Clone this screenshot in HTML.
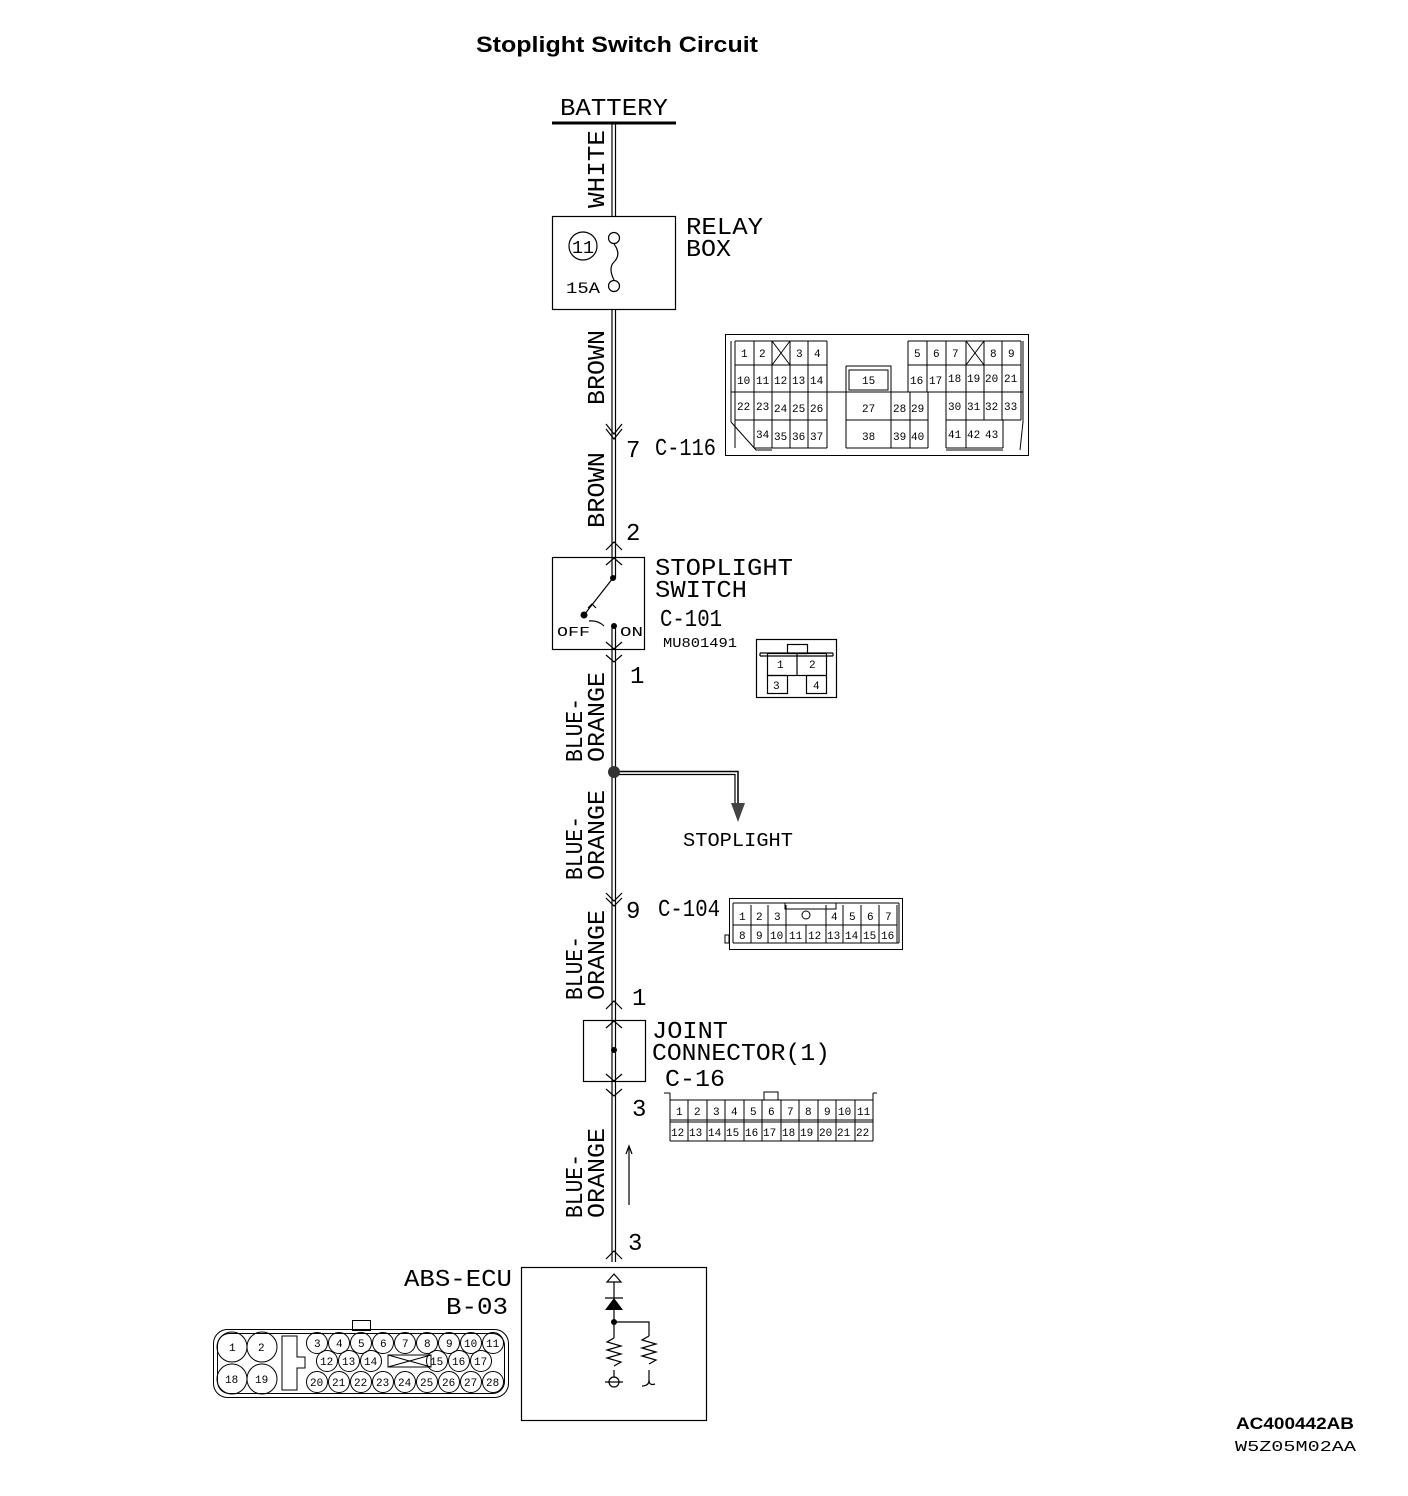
<!DOCTYPE html>
<html><head><meta charset="utf-8"><style>
html,body{margin:0;padding:0;background:#fff}
svg{display:block}
.t{font-family:"Liberation Mono",monospace;fill:#000}
.s{font-family:"Liberation Mono",monospace;fill:#000;font-size:11px}
</style></head><body>
<svg width="1408" height="1496" viewBox="0 0 1408 1496" xmlns="http://www.w3.org/2000/svg">
<g fill="none" stroke="#000" stroke-width="1.2">
<!-- title -->
</g>
<text x="476" y="52" font-family="Liberation Sans,sans-serif" font-weight="bold" font-size="22" textLength="282" lengthAdjust="spacingAndGlyphs">Stoplight  Switch Circuit</text>

<!-- battery -->
<text class="t" x="560" y="115" font-size="24" textLength="108" lengthAdjust="spacingAndGlyphs">BATTERY</text>
<line x1="552" y1="123" x2="676" y2="123" stroke="#000" stroke-width="3"/>

<!-- main wire -->
<g stroke="#000" stroke-width="1.2" fill="none">
<line x1="612" y1="123" x2="612" y2="1262"/>
<line x1="615.5" y1="123" x2="615.5" y2="1262"/>
<!-- relay box -->
<rect x="552.5" y="216.5" width="123" height="93" fill="#fff"/>
<circle cx="583" cy="246" r="14"/>
<circle cx="614" cy="238" r="5.5" fill="#fff"/>
<circle cx="614" cy="286" r="5.5" fill="#fff"/>
<path d="M614 244 C620 252,618 258,614 262 C609 267,611 274,614 280"/>
<!-- C-116 chevrons -->
<path d="M606 424 L614 434 L622 424 M606 429 L614 439 L622 429"/>
<!-- 2 chevrons -->
<path d="M606 550 L614 542 L622 550 M606 566 L614 558 L622 566"/>
<!-- switch box -->
<rect x="552.5" y="557.5" width="92" height="92" fill="#fff"/>
<line x1="612" y1="557" x2="612" y2="578"/><line x1="615.5" y1="557" x2="615.5" y2="578"/>
<line x1="612" y1="626" x2="612" y2="650"/><line x1="615.5" y1="626" x2="615.5" y2="650"/>
<path d="M606 565 L614 558 L622 565"/>
<line x1="613" y1="578" x2="584" y2="615"/>
<path d="M588 608 L592 604 L596 608"/>
<path d="M589 621 Q598 620 604 626"/>
<path d="M606 642 L614 649 L622 642 M606 655 L614 662 L622 655"/>
<!-- 4 pin connector -->
<rect x="756.5" y="639.5" width="80" height="58"/>
<path d="M760 656 H833 M760 656 V653 M833 656 V653 M760 653 H833"/>
<rect x="787.5" y="644.5" width="20" height="9"/>
<rect x="767.5" y="653.5" width="59" height="22"/>
<line x1="797" y1="654" x2="797" y2="676"/>
<rect x="767.5" y="675.5" width="20" height="18"/>
<rect x="806.5" y="675.5" width="20" height="18"/>
<!-- branch -->
<path d="M614 771.5 H738 V805" stroke-width="1.5"/>
<path d="M614 774.5 H735 V805" stroke-width="1.2"/>
<!-- C-104 chevrons -->
<path d="M606 893 L614 901 L622 893 M606 898 L614 906 L622 898"/>
<!-- joint -->
<path d="M606 1009 L614 1001 L622 1009"/>
<rect x="583.5" y="1020.5" width="62" height="61" fill="#fff"/>
<line x1="612" y1="1020" x2="612" y2="1082"/><line x1="615.5" y1="1020" x2="615.5" y2="1082"/>
<path d="M606 1028 L614 1021 L622 1028 M606 1074 L614 1081 L622 1074 M606 1089 L614 1096 L622 1089"/>
<!-- up arrow -->
<line x1="629" y1="1148" x2="629" y2="1205"/>
<path d="M626 1154 L629 1146 L632 1154"/>
<!-- ABS -->
<path d="M606 1259 L614 1251 L622 1259"/>
<rect x="521.5" y="1267.5" width="185" height="153" fill="#fff"/>
<path d="M607 1282 L614 1274 L621 1282 Z"/>
<line x1="614" y1="1282" x2="614" y2="1298"/>
<line x1="614" y1="1310" x2="614" y2="1322"/>
<line x1="605" y1="1298" x2="623" y2="1298"/>
<path d="M614 1322 H649 V1336 M614 1322 V1338 M614 1370 V1377 M649 1370 V1382"/>
<path d="M614 1338 l-7 4 l14 4 l-14 4 l14 4 l-14 4 l14 4 l-7 4"/>
<path d="M649 1336 l-7 4 l14 4 l-14 4 l14 4 l-14 4 l14 4 l-7 4"/>
<circle cx="614" cy="1382" r="5"/>
<line x1="605" y1="1382" x2="623" y2="1382"/>
<path d="M642 1386 Q649 1386 649 1380 Q649 1386 655 1384"/>
</g>
<circle cx="614" cy="1322" r="3"/>
<path d="M605 1310 L623 1310 L614 1298 Z"/>
<circle cx="613" cy="578" r="3"/><circle cx="584" cy="615" r="3.5"/><circle cx="614" cy="626" r="3"/>
<circle cx="614" cy="1050" r="3"/>
<circle cx="614" cy="772" r="6" fill="#333"/>
<path d="M731 803 L745 803 L738 822 Z" fill="#444"/>

<!-- relay texts -->
<text class="t" x="572" y="253" font-size="18" textLength="22" lengthAdjust="spacingAndGlyphs">11</text>
<text class="t" x="566" y="293" font-size="16" textLength="34" lengthAdjust="spacingAndGlyphs">15A</text>
<text class="t" x="686" y="234" font-size="24" textLength="77" lengthAdjust="spacingAndGlyphs">RELAY</text>
<text class="t" x="686" y="256" font-size="24" textLength="45" lengthAdjust="spacingAndGlyphs">BOX</text>

<!-- wire labels -->
<text class="t" font-size="24" transform="translate(604,208) rotate(-90)" textLength="78" lengthAdjust="spacingAndGlyphs">WHITE</text>
<text class="t" font-size="24" transform="translate(604,405) rotate(-90)" textLength="75" lengthAdjust="spacingAndGlyphs">BROWN</text>
<text class="t" font-size="24" transform="translate(604,528) rotate(-90)" textLength="76" lengthAdjust="spacingAndGlyphs">BROWN</text>
<text class="t" font-size="24" transform="translate(582,762) rotate(-90)" textLength="64" lengthAdjust="spacingAndGlyphs">BLUE-</text>
<text class="t" font-size="24" transform="translate(604,762) rotate(-90)" textLength="90" lengthAdjust="spacingAndGlyphs">ORANGE</text>
<text class="t" font-size="24" transform="translate(582,880) rotate(-90)" textLength="64" lengthAdjust="spacingAndGlyphs">BLUE-</text>
<text class="t" font-size="24" transform="translate(604,880) rotate(-90)" textLength="90" lengthAdjust="spacingAndGlyphs">ORANGE</text>
<text class="t" font-size="24" transform="translate(582,1000) rotate(-90)" textLength="64" lengthAdjust="spacingAndGlyphs">BLUE-</text>
<text class="t" font-size="24" transform="translate(604,1000) rotate(-90)" textLength="90" lengthAdjust="spacingAndGlyphs">ORANGE</text>
<text class="t" font-size="24" transform="translate(582,1218) rotate(-90)" textLength="64" lengthAdjust="spacingAndGlyphs">BLUE-</text>
<text class="t" font-size="24" transform="translate(604,1218) rotate(-90)" textLength="90" lengthAdjust="spacingAndGlyphs">ORANGE</text>

<!-- pin numbers & labels -->
<text class="t" x="626" y="457" font-size="24">7</text>
<text class="t" x="655" y="455" font-size="24" textLength="61" lengthAdjust="spacingAndGlyphs">C-116</text>
<text class="t" x="626" y="540" font-size="24">2</text>
<text class="t" x="655" y="575" font-size="24" textLength="138" lengthAdjust="spacingAndGlyphs">STOPLIGHT</text>
<text class="t" x="655" y="597" font-size="24" textLength="92" lengthAdjust="spacingAndGlyphs">SWITCH</text>
<text class="t" x="660" y="626" font-size="24" textLength="62" lengthAdjust="spacingAndGlyphs">C-101</text>
<text class="t" x="663" y="647" font-size="14" textLength="74" lengthAdjust="spacingAndGlyphs">MU801491</text>
<text class="t" x="557" y="636" font-size="14" textLength="33" lengthAdjust="spacingAndGlyphs">OFF</text>
<text class="t" x="620" y="636" font-size="14" textLength="23" lengthAdjust="spacingAndGlyphs">ON</text>
<text class="s" x="777" y="668">1</text><text class="s" x="809" y="668">2</text>
<text class="s" x="773" y="689">3</text><text class="s" x="813" y="689">4</text>
<text class="t" x="630" y="683" font-size="24">1</text>
<text class="t" x="683" y="846" font-size="19" textLength="110" lengthAdjust="spacingAndGlyphs">STOPLIGHT</text>
<text class="t" x="626" y="918" font-size="24">9</text>
<text class="t" x="658" y="916" font-size="24" textLength="62" lengthAdjust="spacingAndGlyphs">C-104</text>
<text class="t" x="632" y="1005" font-size="24">1</text>
<text class="t" x="652" y="1038" font-size="24" textLength="76" lengthAdjust="spacingAndGlyphs">JOINT</text>
<text class="t" x="652" y="1060" font-size="24" textLength="178" lengthAdjust="spacingAndGlyphs">CONNECTOR(1)</text>
<text class="t" x="665" y="1086" font-size="24" textLength="60" lengthAdjust="spacingAndGlyphs">C-16</text>
<text class="t" x="632" y="1116" font-size="24">3</text>
<text class="t" x="628" y="1250" font-size="24">3</text>
<text class="t" x="404" y="1286" font-size="24" textLength="108" lengthAdjust="spacingAndGlyphs">ABS-ECU</text>
<text class="t" x="446" y="1314" font-size="24" textLength="62" lengthAdjust="spacingAndGlyphs">B-03</text>
<text x="1236" y="1429" font-family="Liberation Sans,sans-serif" font-weight="bold" font-size="17" textLength="118" lengthAdjust="spacingAndGlyphs">AC400442AB</text>
<text class="t" x="1235" y="1451" font-size="15" textLength="121" lengthAdjust="spacingAndGlyphs">W5Z05M02AA</text>

<!-- C-116 connector -->
<g stroke="#000" stroke-width="1" fill="none">
<rect x="725.5" y="334.5" width="303" height="121"/>
<path d="M731 341 V422 M1023 341 V422 M731 392 H1023 M735 341 H827 M908 341 H1021"/>
<path d="M731 422 L756 450 H772 M1023 422 L1020 450 M946 450 H1003"/>
<path d="M735 341 V448 M754 341 V448 M772 341 V448 M790 341 V448 M808 341 V448 M827 341 V448 M735 365 H827 M735 420 H827 M754 448 H827"/>
<path d="M772 341 L790 365 M790 341 L772 365"/>
<path d="M846 366 V448 M891 392 V448 M910 392 V448 M928 392 V448 M846 366 H891 V392 M846 420 H928 M846 448 H928 M849 370 H888 V390 H849 Z"/>
<path d="M908 341 V392 M927 341 V392 M946 341 V448 M966 341 V448 M984 341 V420 M1002 341 V420 M1021 341 V420 M908 365 H1021 M946 420 H1021 M946 448 H1003 M1003 420 V448"/>
<path d="M966 341 L984 365 M984 341 L966 365"/>
</g>
<g class="s">
<text x="741" y="357">1</text><text x="759" y="357">2</text><text x="796" y="357">3</text><text x="814" y="357">4</text>
<text x="737" y="384">10</text><text x="756" y="384">11</text><text x="774" y="384">12</text><text x="792" y="384">13</text><text x="810" y="384">14</text>
<text x="737" y="410">22</text><text x="756" y="410">23</text><text x="774" y="412">24</text><text x="792" y="412">25</text><text x="810" y="412">26</text>
<text x="756" y="438">34</text><text x="774" y="440">35</text><text x="792" y="440">36</text><text x="810" y="440">37</text>
<text x="862" y="384">15</text><text x="862" y="412">27</text><text x="893" y="412">28</text><text x="911" y="412">29</text>
<text x="862" y="440">38</text><text x="893" y="440">39</text><text x="911" y="440">40</text>
<text x="914" y="357">5</text><text x="933" y="357">6</text><text x="952" y="357">7</text><text x="990" y="357">8</text><text x="1008" y="357">9</text>
<text x="910" y="384">16</text><text x="929" y="384">17</text><text x="948" y="382">18</text><text x="967" y="382">19</text><text x="985" y="382">20</text><text x="1004" y="382">21</text>
<text x="948" y="410">30</text><text x="967" y="410">31</text><text x="985" y="410">32</text><text x="1004" y="410">33</text>
<text x="948" y="438">41</text><text x="967" y="438">42</text><text x="985" y="438">43</text>
</g>

<!-- C-104 -->
<g stroke="#000" stroke-width="1" fill="none">
<rect x="729.5" y="898.5" width="173" height="51"/>
<path d="M733 903 H899 M733 943 H899 M733 903 V943 M899 903 V943 M733 925 H897 M785 903 V909 H836 V903 M725 935 H729 V943 H725 Z"/>
<path d="M751 905 V943 M768 905 V943 M786 905 V943 M826 905 V925 M843 905 V943 M861 905 V943 M879 905 V943 M806 925 V943 M826 925 V943 M897 905 V943"/>
<circle cx="806" cy="915" r="4"/>
</g>
<g class="s">
<text x="739" y="920">1</text><text x="756" y="920">2</text><text x="774" y="920">3</text><text x="831" y="920">4</text><text x="849" y="920">5</text><text x="867" y="920">6</text><text x="885" y="920">7</text>
<text x="739" y="939">8</text><text x="756" y="939">9</text><text x="770" y="939">10</text><text x="789" y="939">11</text><text x="808" y="939">12</text><text x="827" y="939">13</text><text x="845" y="939">14</text><text x="863" y="939">15</text><text x="881" y="939">16</text>
</g>

<!-- C-16 -->
<g stroke="#000" stroke-width="1" fill="none">
<path d="M670 1093 V1141 M873 1093 V1141 M670 1100 H873 M670 1120 H873 M670 1122 H873 M670 1141 H873 M664 1093 H670 M873 1093 H877 M764 1100 V1092 H778 V1100"/>
<path d="M688 1100 V1141 M707 1100 V1141 M725 1100 V1141 M744 1100 V1141 M762 1100 V1141 M781 1100 V1141 M799 1100 V1141 M818 1100 V1141 M836 1100 V1141 M855 1100 V1141"/>
</g>
<g class="s">
<text x="676" y="1115">1</text><text x="694" y="1115">2</text><text x="713" y="1115">3</text><text x="731" y="1115">4</text><text x="750" y="1115">5</text><text x="768" y="1115">6</text><text x="787" y="1115">7</text><text x="805" y="1115">8</text><text x="824" y="1115">9</text><text x="838" y="1115">10</text><text x="857" y="1115">11</text>
<text x="671" y="1136">12</text><text x="689" y="1136">13</text><text x="708" y="1136">14</text><text x="726" y="1136">15</text><text x="745" y="1136">16</text><text x="763" y="1136">17</text><text x="782" y="1136">18</text><text x="800" y="1136">19</text><text x="819" y="1136">20</text><text x="837" y="1136">21</text><text x="856" y="1136">22</text>
</g>

<!-- B-03 -->
<g stroke="#000" stroke-width="1" fill="none">
<rect x="213.5" y="1329.5" width="295" height="68" rx="14"/>
<rect x="217.5" y="1333.5" width="287" height="60" rx="12"/>
<rect x="352.5" y="1320.5" width="18" height="10"/>
<path d="M282 1336 H297 V1357 H305 V1368 H297 V1390 H282 Z"/>
<circle cx="232" cy="1347" r="15"/><circle cx="262" cy="1347" r="15"/><circle cx="232" cy="1379" r="15"/><circle cx="262" cy="1379" r="15"/>
<circle cx="317" cy="1343" r="10.5"/><circle cx="339" cy="1343" r="10.5"/><circle cx="361" cy="1343" r="10.5"/><circle cx="383" cy="1343" r="10.5"/><circle cx="405" cy="1343" r="10.5"/><circle cx="427" cy="1343" r="10.5"/><circle cx="449" cy="1343" r="10.5"/><circle cx="471" cy="1343" r="10.5"/><circle cx="493" cy="1343" r="10.5"/>
<circle cx="327" cy="1361" r="10.5"/><circle cx="349" cy="1361" r="10.5"/><circle cx="371" cy="1361" r="10.5"/><circle cx="437" cy="1361" r="10.5"/><circle cx="459" cy="1361" r="10.5"/><circle cx="481" cy="1361" r="10.5"/>
<path d="M388 1355 H431 V1367 H388 Z M388 1355 L431 1367 M431 1355 L388 1367"/>
<circle cx="317" cy="1382" r="10.5"/><circle cx="339" cy="1382" r="10.5"/><circle cx="361" cy="1382" r="10.5"/><circle cx="383" cy="1382" r="10.5"/><circle cx="405" cy="1382" r="10.5"/><circle cx="427" cy="1382" r="10.5"/><circle cx="449" cy="1382" r="10.5"/><circle cx="471" cy="1382" r="10.5"/><circle cx="493" cy="1382" r="10.5"/>
</g>
<g class="s">
<text x="229" y="1351">1</text><text x="258" y="1351">2</text><text x="225" y="1383">18</text><text x="255" y="1383">19</text>
<text x="314" y="1347">3</text><text x="336" y="1347">4</text><text x="358" y="1347">5</text><text x="380" y="1347">6</text><text x="402" y="1347">7</text><text x="424" y="1347">8</text><text x="446" y="1347">9</text><text x="464" y="1347">10</text><text x="486" y="1347">11</text>
<text x="320" y="1365">12</text><text x="342" y="1365">13</text><text x="364" y="1365">14</text><text x="430" y="1365">15</text><text x="452" y="1365">16</text><text x="474" y="1365">17</text>
<text x="310" y="1386">20</text><text x="332" y="1386">21</text><text x="354" y="1386">22</text><text x="376" y="1386">23</text><text x="398" y="1386">24</text><text x="420" y="1386">25</text><text x="442" y="1386">26</text><text x="464" y="1386">27</text><text x="486" y="1386">28</text>
</g>
</svg>
</body></html>
